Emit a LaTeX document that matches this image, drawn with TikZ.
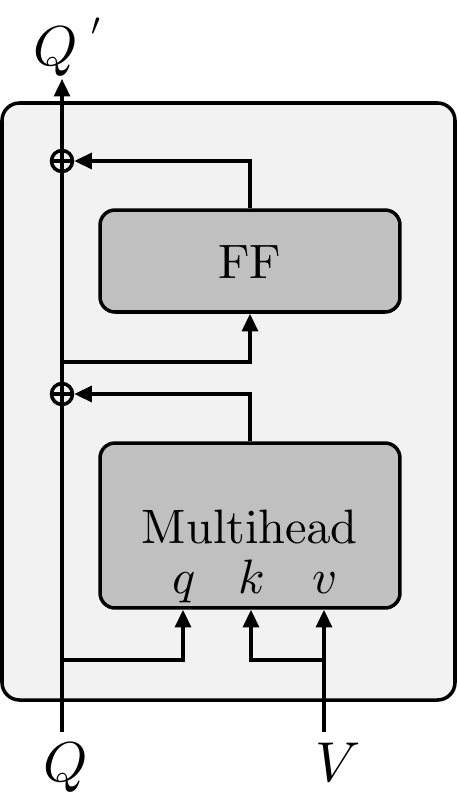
\documentclass[tikz,border=0pt]{standalone}
\usetikzlibrary{arrows.meta}

\definecolor{blockbg}{HTML}{F2F2F2}
\definecolor{boxgray}{HTML}{C0C0C0}

\font\boxrm=cmr10 at 27.5pt
\font\boxmi=cmmi10 at 27.5pt
\font\iomi=cmmi10 at 32pt
\font\primefont=cmsy10 at 18pt

\tikzset{
  line/.style={line width=2pt},
  arr/.style={line, -{Triangle[length=10pt,width=9pt]}},
  layer/.style={draw, line width=2pt, fill=boxgray, rounded corners=0.3cm, minimum width=6cm},
  boxtext/.style={anchor=base, inner sep=0pt},
  iotext/.style={anchor=base, inner xsep=0pt, inner ysep=6pt},
  addnode/.style={draw, circle, line width=2pt, minimum size=0.42cm, inner sep=0pt,
    path picture={\draw[line width=2pt] (path picture bounding box.west) -- (path picture bounding box.east);}}
}

\begin{document}
\begin{tikzpicture}[x=0.02cm, y=-0.02cm]
\useasboundingbox (0,0) rectangle (457,801);

\draw[line, fill=blockbg, rounded corners=0.35cm] (2,103) rectangle (455,700);

\node[name=ff, layer, minimum height=2.04cm] at (250,261) {};
\node[name=fftext, boxtext] at (250,278) {\boxrm FF};
\node[name=mha, layer, minimum height=3.3cm] at (250,525.5) {};
\node[name=mhtext, boxtext] at (250,543) {\boxrm Multihead};
\node[name=qn, boxtext] at (183,593) {\boxmi q};
\node[name=kn, boxtext] at (251,593) {\boxmi k};
\node[name=vn, boxtext] at (324,593) {\boxmi v};

\node[name=Q, iotext] at (66,781) {\iomi Q};
\node[name=V, iotext] at (332,781) {\iomi V};
\node[name=Qp, iotext, anchor=base west, inner ysep=1.5pt] at (33,65)
  {\iomi Q\hspace{8pt}\raisebox{17pt}{\primefont\char"30}};

\node[name=p1, addnode] at (62,161) {};
\node[name=p2, addnode] at (62,394) {};

\coordinate (s1) at (62,362);
\coordinate (s2) at (62,660);
\coordinate (s3) at (323,660);

\draw[arr] (Q.north -| p1) -- (Qp.south -| p1);
\draw[arr] (ff.north) |- (p1.east);
\draw[arr] (mha.north) |- (p2.east);
\draw[arr] (s1) -| (ff.south);
\draw[arr] (s2) -| (qn |- mha.south);
\draw[arr] (s3) -| (kn |- mha.south);
\draw[arr] (V.north -| vn) -- (vn |- mha.south);
\end{tikzpicture}
\end{document}
